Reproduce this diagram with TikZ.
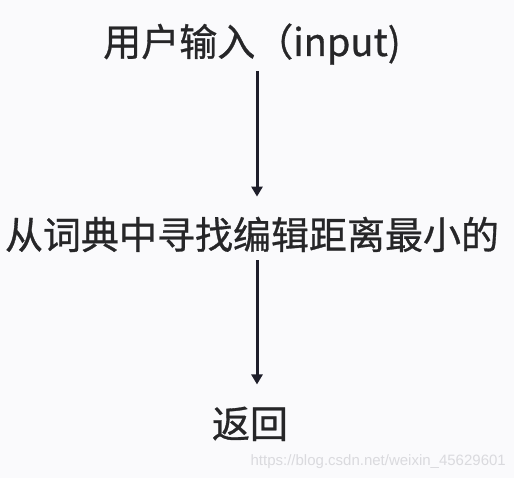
\documentclass[tikz,border=0pt]{standalone}
\usepackage{fontspec}
\newfontfamily\cjk[FakeBold=0.8]{Noto Sans CJK SC}
\newfontfamily\wmfont{Liberation Sans}
\usetikzlibrary{arrows.meta}
\definecolor{bgc}{RGB}{250,250,252}
\definecolor{txt}{RGB}{38,38,40}
\definecolor{arrc}{RGB}{30,30,42}
\definecolor{wm}{RGB}{218,218,222}
\tikzset{
  lbl/.style={font=\cjk\fontsize{38}{40}\selectfont, text=txt, inner sep=0pt, anchor=base},
  flow/.style={draw=arrc, line width=3pt, -{Triangle[length=10pt,width=11pt]}},
  wmark/.style={font=\wmfont\fontsize{15}{16}\selectfont, text=wm, inner sep=0pt, anchor=base east}
}
\begin{document}
\begin{tikzpicture}[x=1pt,y=-1pt]
\useasboundingbox[fill=bgc] (0,0) rectangle (514,478);
\node[lbl] (inp) at (252,56) {用户输入（input)};
\node[lbl] (find) at (252,249) {从词典中寻找编辑距离最小的};
\node[lbl] (ret) at (250,438) {返回};
\coordinate (ax) at (257,0);
\draw[flow] ([yshift=-6pt]inp.south -| ax) -- ([yshift=20pt]find.north -| ax);
\draw[flow] ([yshift=-8pt]find.south -| ax) -- ([yshift=22pt]ret.north -| ax);
\node[wmark] (wm) at (506,465) {https://blog.csdn.net/weixin\_45629601};
\end{tikzpicture}
\end{document}
